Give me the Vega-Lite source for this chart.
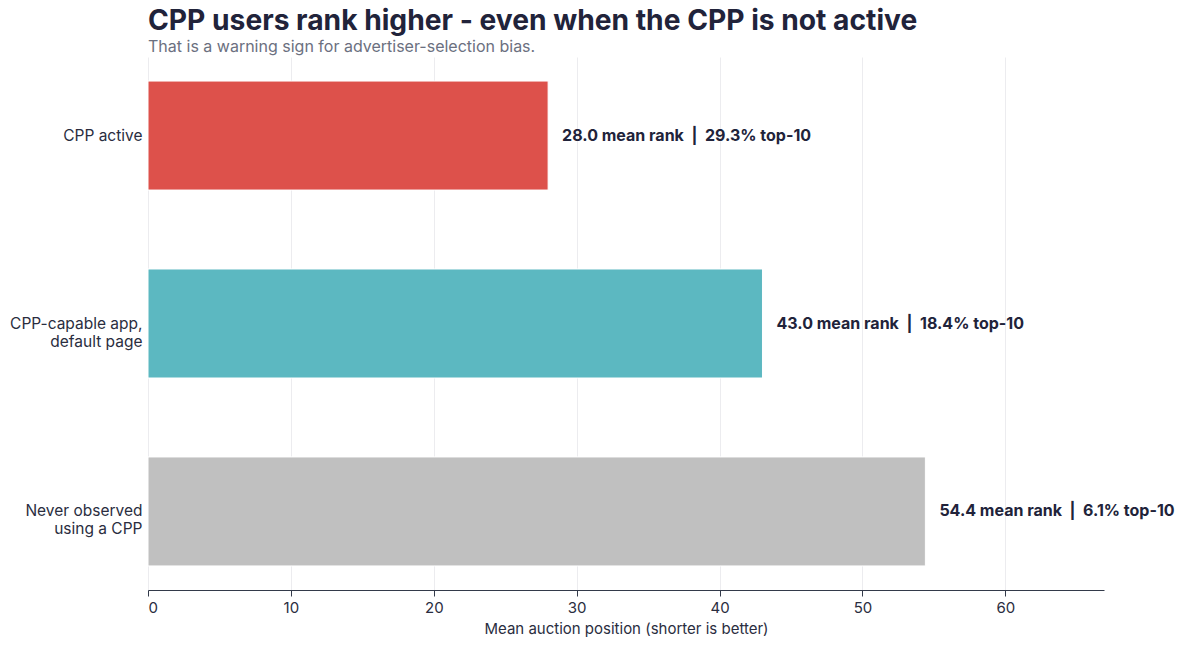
{
  "$schema": "https://vega.github.io/schema/vega-lite/v6.json",
  "autosize": {"type": "none"},
  "width": 956,
  "height": 533,
  "padding": {"left": 148, "top": 57, "right": 75, "bottom": 56},
  "background": "white",
  "config": {
    "font": "Inter",
    "view": {"stroke": null},
    "axis": {"labelFont": "Inter", "titleFont": "Inter"}
  },
  "title": {
    "text": "CPP users rank higher - even when the CPP is not active",
    "subtitle": "That is a warning sign for advertiser-selection bias.",
    "anchor": "start",
    "frame": "group",
    "fontSize": 28.2,
    "fontWeight": "bold",
    "color": "#21233a",
    "subtitleFontSize": 16,
    "subtitleColor": "#6b7080",
    "subtitleFont": "Inter",
    "subtitlePadding": 3,
    "offset": 1
  },
  "data": {
    "values": [
      {"group": "CPP active", "rank": 28.0, "top10": 29.3, "label": "28.0 mean rank\u00a0\u00a0|\u00a0\u00a029.3% top-10", "color": "#DD514B"},
      {"group": "CPP-capable app, default page", "rank": 43.0, "top10": 18.4, "label": "43.0 mean rank\u00a0\u00a0|\u00a0\u00a018.4% top-10", "color": "#5CB8C1"},
      {"group": "Never observed using a CPP", "rank": 54.4, "top10": 6.1, "label": "54.4 mean rank\u00a0\u00a0|\u00a0\u00a06.1% top-10", "color": "#C0C0C0"}
    ]
  },
  "encoding": {
    "y": {
      "field": "group",
      "type": "nominal",
      "sort": null,
      "scale": {"paddingInner": 0.42, "paddingOuter": 0.128},
      "axis": {
        "title": null,
        "domain": false,
        "ticks": false,
        "labelPadding": 6,
        "labelFontSize": 15.5,
        "labelColor": "#2a2d40",
        "labelLineHeight": 18,
        "labelExpr": "datum.value == 'CPP-capable app, default page' ? ['CPP-capable app,', 'default page'] : datum.value == 'Never observed using a CPP' ? ['Never observed', 'using a CPP'] : datum.value"
      }
    }
  },
  "layer": [
    {
      "mark": {"type": "bar", "stroke": "white", "strokeWidth": 1},
      "encoding": {
        "x": {
          "field": "rank",
          "type": "quantitative",
          "scale": {"domain": [0, 66.9], "nice": false},
          "axis": {
            "title": "Mean auction position (shorter is better)",
            "titleFontSize": 15,
            "titleFontWeight": "normal",
            "titleColor": "#2a2d40",
            "titlePadding": 6,
            "labelFontSize": 15,
            "labelColor": "#2a2d40",
            "labelPadding": 4,
            "values": [0, 10, 20, 30, 40, 50, 60],
            "domainColor": "#333a4a",
            "domainWidth": 1.2,
            "tickColor": "#333a4a",
            "tickSize": 6,
            "grid": true,
            "gridColor": "#ececef",
            "gridWidth": 1
          }
        },
        "color": {"field": "color", "type": "nominal", "scale": null}
      }
    },
    {
      "mark": {"type": "text", "align": "left", "baseline": "middle", "dx": 14, "fontSize": 16, "fontWeight": "bold", "color": "#21233a"},
      "encoding": {
        "x": {"field": "rank", "type": "quantitative"},
        "text": {"field": "label"}
      }
    }
  ]
}
